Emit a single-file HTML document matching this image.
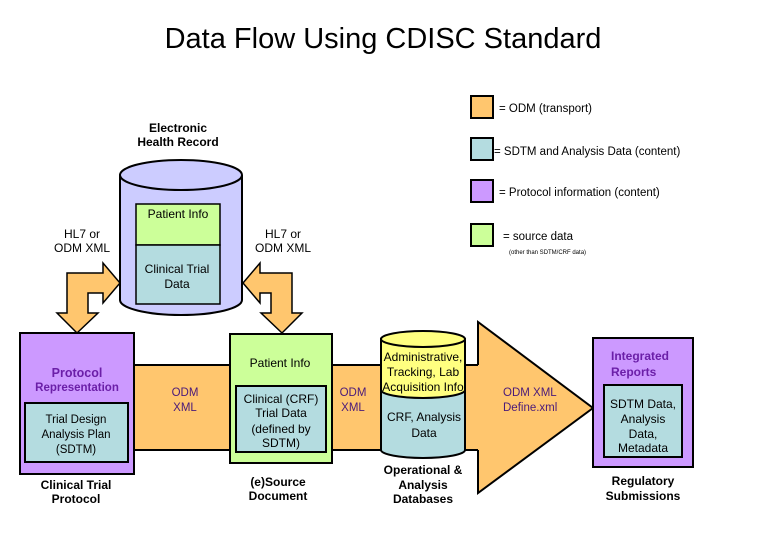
<!DOCTYPE html>
<html><head><style>
body{margin:0;background:#fff;}
svg text{font-family:"Liberation Sans",Arial,sans-serif;}
</style></head><body>
<svg width="780" height="540" viewBox="0 0 780 540" xmlns="http://www.w3.org/2000/svg">
<rect width="780" height="540" fill="#fff"/>
<text x="383" y="48" font-size="29" text-anchor="middle" fill="#000">Data Flow Using CDISC Standard</text>

<!-- legend -->
<g stroke="#000" stroke-width="2">
<rect x="471" y="96" width="22" height="22" fill="#FFC66E"/>
<rect x="471" y="138" width="22" height="22" fill="#B4DCE0"/>
<rect x="471" y="180" width="22" height="22" fill="#CC99FF"/>
<rect x="471" y="224" width="22" height="22" fill="#CCFF99"/>
</g>
<g font-size="11.5" fill="#000">
<text x="499" y="112">= ODM  (transport)</text>
<text x="494" y="155">= SDTM  and Analysis Data (content)</text>
<text x="499" y="196">= Protocol information (content)</text>
<text x="503" y="240">= source data</text>
<text x="509" y="254" font-size="6">(other than SDTM/CRF data)</text>
</g>

<!-- orange band -->
<rect x="130" y="365" width="360" height="85" fill="#FFC66E" stroke="#000" stroke-width="2"/>
<path d="M478,365 L478,322 L593,408 L478,493 L478,450" fill="#FFC66E" stroke="#000" stroke-width="2"/>
<rect x="470" y="366" width="10" height="83" fill="#FFC66E"/>

<!-- EHR cylinder -->
<path d="M120,175 L120,300 A61,15 0 0 0 242,300 L242,175" fill="#CCCCFF" stroke="#000" stroke-width="2"/>
<ellipse cx="181" cy="175" rx="61" ry="15" fill="#CCCCFF" stroke="#000" stroke-width="2"/>
<rect x="136" y="204" width="84" height="41" fill="#CCFF99" stroke="#000" stroke-width="1.5"/>
<rect x="136" y="245" width="84" height="59" fill="#B4DCE0" stroke="#000" stroke-width="1.5"/>
<text x="178" y="218" font-size="12" text-anchor="middle">Patient Info</text>
<text x="177" y="273" font-size="12" text-anchor="middle">Clinical Trial</text>
<text x="177" y="288" font-size="12" text-anchor="middle">Data</text>
<text x="178" y="132" font-size="12" font-weight="bold" text-anchor="middle">Electronic</text>
<text x="178" y="146" font-size="12" font-weight="bold" text-anchor="middle">Health Record</text>

<text x="82" y="238" font-size="12" text-anchor="middle">HL7 or</text>
<text x="82" y="252" font-size="12" text-anchor="middle">ODM XML</text>
<text x="283" y="238" font-size="12" text-anchor="middle">HL7 or</text>
<text x="283" y="252" font-size="12" text-anchor="middle">ODM XML</text>

<!-- left arrow -->
<path d="M67,313 L57,313 L77,333 L98,313 L88,313 L88,293 L103,293 L103,303 L120,283 L103,263 L103,273 L67,273 Z" fill="#FFC66E" stroke="#000" stroke-width="1.5"/>
<!-- right arrow -->
<path d="M292,313 L302,313 L282,333 L261,313 L271,313 L271,293 L260,293 L260,303 L243,283 L260,263 L260,273 L292,273 Z" fill="#FFC66E" stroke="#000" stroke-width="1.5"/>

<!-- protocol box -->
<rect x="20" y="333" width="114" height="141" fill="#CC99FF" stroke="#000" stroke-width="2"/>
<rect x="25" y="403" width="103" height="59" fill="#B4DCE0" stroke="#000" stroke-width="2"/>
<text x="77" y="377" font-size="12.5" font-weight="bold" fill="#6B1FA8" text-anchor="middle">Protocol</text>
<text x="77" y="391" font-size="11.5" font-weight="bold" fill="#6B1FA8" text-anchor="middle">Representation</text>
<text x="76" y="423" font-size="11.5" text-anchor="middle">Trial Design</text>
<text x="76" y="438" font-size="11.5" text-anchor="middle">Analysis Plan</text>
<text x="76" y="453" font-size="11.5" text-anchor="middle">(SDTM)</text>
<text x="76" y="489" font-size="12" font-weight="bold" text-anchor="middle">Clinical Trial</text>
<text x="76" y="503" font-size="12" font-weight="bold" text-anchor="middle">Protocol</text>

<text x="185" y="396" font-size="11.5" fill="#4a1a7a" text-anchor="middle">ODM</text>
<text x="185" y="411" font-size="11.5" fill="#4a1a7a" text-anchor="middle">XML</text>

<!-- source box -->
<rect x="230" y="334" width="102" height="129" fill="#CCFF99" stroke="#000" stroke-width="2"/>
<rect x="236" y="386" width="90" height="66" fill="#B4DCE0" stroke="#000" stroke-width="2"/>
<text x="280" y="367" font-size="12" text-anchor="middle">Patient Info</text>
<text x="281" y="403" font-size="12" text-anchor="middle">Clinical (CRF)</text>
<text x="281" y="417" font-size="12" text-anchor="middle">Trial Data</text>
<text x="281" y="433" font-size="12" text-anchor="middle">(defined by</text>
<text x="281" y="447" font-size="12" text-anchor="middle">SDTM)</text>
<text x="278" y="486" font-size="12" font-weight="bold" text-anchor="middle">(e)Source</text>
<text x="278" y="500" font-size="12" font-weight="bold" text-anchor="middle">Document</text>

<text x="353" y="396" font-size="11.5" fill="#4a1a7a" text-anchor="middle">ODM</text>
<text x="353" y="411" font-size="11.5" fill="#4a1a7a" text-anchor="middle">XML</text>

<!-- ops DB cylinder -->
<path d="M381,339 L381,450 A42,8 0 0 0 465,450 L465,339" fill="#B4DCE0" stroke="#000" stroke-width="2"/>
<path d="M381,339 L381,390 A42,8 0 0 0 465,390 L465,339 Z" fill="#FFFF80" stroke="#000" stroke-width="2"/>
<ellipse cx="423" cy="339" rx="42" ry="8" fill="#FFFF80" stroke="#000" stroke-width="2"/>
<text x="423" y="361" font-size="12" text-anchor="middle">Administrative,</text>
<text x="423" y="376" font-size="12" text-anchor="middle">Tracking, Lab</text>
<text x="423" y="391" font-size="12" text-anchor="middle">Acquisition Info</text>
<text x="424" y="421" font-size="12" text-anchor="middle">CRF, Analysis</text>
<text x="424" y="437" font-size="12" text-anchor="middle">Data</text>
<text x="423" y="474" font-size="12" font-weight="bold" text-anchor="middle">Operational &amp;</text>
<text x="423" y="489" font-size="12" font-weight="bold" text-anchor="middle">Analysis</text>
<text x="423" y="503" font-size="12" font-weight="bold" text-anchor="middle">Databases</text>

<text x="503" y="396" font-size="11.5" fill="#4a1a7a">ODM XML</text>
<text x="503" y="411" font-size="11.5" fill="#4a1a7a">Define.xml</text>

<!-- integrated reports -->
<rect x="593" y="338" width="100" height="129" fill="#CC99FF" stroke="#000" stroke-width="2"/>
<rect x="604" y="385" width="78" height="72" fill="#B4DCE0" stroke="#000" stroke-width="2"/>
<text x="611" y="360" font-size="12" font-weight="bold" fill="#6B1FA8">Integrated</text>
<text x="611" y="376" font-size="12" font-weight="bold" fill="#6B1FA8">Reports</text>
<text x="643" y="408" font-size="12" text-anchor="middle">SDTM Data,</text>
<text x="643" y="423" font-size="12" text-anchor="middle">Analysis</text>
<text x="643" y="438" font-size="12" text-anchor="middle">Data,</text>
<text x="643" y="452" font-size="12" text-anchor="middle">Metadata</text>
<text x="643" y="485" font-size="12" font-weight="bold" text-anchor="middle">Regulatory</text>
<text x="643" y="500" font-size="12" font-weight="bold" text-anchor="middle">Submissions</text>
</svg>
</body></html>
